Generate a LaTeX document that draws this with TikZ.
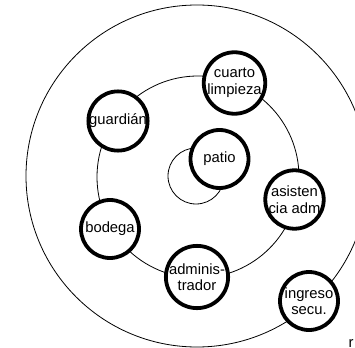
\documentclass[tikz,border=0pt]{standalone}
\usepackage{fontspec}
\setmainfont{Liberation Sans}
\begin{document}
\begin{tikzpicture}[x=1pt,y=-1pt,
  ring/.style={draw=black,line width=0.8pt},
  place/.style={circle,draw=black,line width=3.8pt,fill=white,minimum size=58pt,inner sep=0pt,
    font=\fontsize{14.8}{16.5}\selectfont,align=center}]
\useasboundingbox (0,0) rectangle (355,347);
\begin{scope}
\clip (0,0) rectangle (355,347);
\coordinate (c) at (197,176);
\draw[ring] (c) circle[radius=171];
\draw[ring] (198,177) circle[radius=101];
\draw[ring] (196,176) circle[radius=28];
\node[place] (cuarto) at (234.5,83) {cuarto\\limpieza};
\node[place] (guardian) at (118,121) {guardián};
\node[place] (patio) at (219.5,159) {patio};
\node[place] (asist) at (294.5,199.5) {asisten\\cia adm};
\node[place] (bodega) at (110,229) {bodega};
\node[place] (admin) at (197,277) {adminis-\\trador};
\node[place] (ingreso) at (309,301) {ingreso\\secu.};
\node[anchor=north west,inner sep=0pt,font=\fontsize{14.8}{16.5}\selectfont] (rr) at (348.5,339.5) {r};
\end{scope}
\end{tikzpicture}
\end{document}
